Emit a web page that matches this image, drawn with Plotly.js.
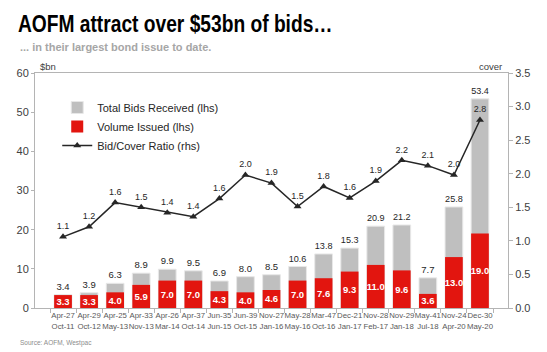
<!DOCTYPE html>
<html><head><meta charset="utf-8">
<script src="https://cdn.plot.ly/plotly-3.0.1.min.js"></script>
<style>body{margin:0;background:#fff}</style>
</head><body><div id="chart" style="width:547px;height:352px"></div>
<script>
const categories = ["Apr-27<br>Oct-11","Apr-29<br>Oct-12","Apr-25<br>May-13","Apr-33<br>Nov-13","Apr-26<br>Mar-14","Apr-37<br>Oct-14","Jun-35<br>Jun-15","Jun-39<br>Oct-15","Nov-27<br>Jan-16","May-28<br>May-16","Mar-47<br>Oct-16","Dec-21<br>Jan-17","Nov-28<br>Feb-17","Nov-29<br>Jan-18","May-41<br>Jul-18","Nov-24<br>Apr-20","Dec-30<br>May-20"];
const totalBids = [3.4,3.9,6.3,8.9,9.9,9.5,6.9,8.0,8.5,10.6,13.8,15.3,20.9,21.2,7.7,25.8,53.4];
const volumeIssued = [3.3,3.3,4.0,5.9,7.0,7.0,4.3,4.0,4.6,7.0,7.6,9.3,11.0,9.6,3.6,13.0,19.0];
const bidCover = [1.06,1.21,1.57,1.50,1.42,1.36,1.63,1.98,1.86,1.51,1.81,1.64,1.89,2.20,2.12,1.98,2.80];

const FONT = "'Liberation Sans', Arial, sans-serif";
const traces = [
  {type:'bar', name:'Total Bids Received (lhs)', x:categories, y:totalBids,
   marker:{color:'#bfbfbf', line:{color:'#e8e8e8', width:1}}, width:0.68,
   text:totalBids.map(v=>v.toFixed(1)), textposition:'outside', cliponaxis:false,
   textfont:{size:9.5, color:'#262626', family:FONT}, hoverinfo:'skip'},
  {type:'bar', name:'Volume Issued (lhs)', x:categories, y:volumeIssued,
   marker:{color:'#e2150f'}, width:0.68,
   text:volumeIssued.map(v=>v.toFixed(1)), textposition:'inside', insidetextanchor:'middle',
   constraintext:'none', textangle:0,
   textfont:{size:9.5, color:'#ffffff', family:FONT, weight:'bold'}, hoverinfo:'skip'},
  {type:'scatter', mode:'lines+markers+text', name:'Bid/Cover Ratio (rhs)', x:categories, y:bidCover, yaxis:'y2',
   line:{color:'#262626', width:1.5}, marker:{symbol:'triangle-up', size:7, color:'#262626'},
   text:bidCover.map(v=>v.toFixed(1)), textposition:'top center', cliponaxis:false,
   textfont:{size:9, color:'#262626', family:FONT}, hoverinfo:'skip'}
];
const layout = {
  width:547, height:352, paper_bgcolor:'#fff', plot_bgcolor:'#fff',
  margin:{l:35, r:39, t:73, b:44},
  font:{family:FONT, color:'#404040'},
  barmode:'overlay', showlegend:true,
  title:{text:'AOFM attract over $53bn of bids…', x:18/547, xanchor:'left', xref:'container', y:1-24/352, yanchor:'middle', yref:'container',
    font:{size:24, color:'#000', weight:'bold', family:FONT}},
  xaxis:{type:'category', showline:true, linecolor:'#b4b4b4', linewidth:1, mirror:true,
    ticks:'outside', tickson:'boundaries', ticklen:4, tickcolor:'#b4b4b4', tickangle:0,
    tickfont:{size:7.8, color:'#595959'}, showgrid:false, fixedrange:true},
  yaxis:{range:[0,60], dtick:10, showline:true, linecolor:'#b4b4b4', ticks:'outside', ticklen:3, tickcolor:'#b4b4b4',
    showgrid:false, zeroline:false, tickfont:{size:11, color:'#404040'}},
  yaxis2:{range:[0,3.5], dtick:0.5, tickformat:'.1f', overlaying:'y', side:'right', showline:true, linecolor:'#b4b4b4',
    ticks:'outside', ticklen:4, tickcolor:'#b4b4b4', showgrid:false, zeroline:false, tickfont:{size:11, color:'#404040'}},
  legend:{x:0.047, y:0.915, xanchor:'left', yanchor:'top', bgcolor:'rgba(0,0,0,0)', font:{size:11, color:'#262626'}, traceorder:'normal', tracegroupgap:0},
  annotations:[
    {text:'... in their largest bond issue to date.', xref:'paper', yref:'paper', x:-17/473, y:1+(73-47)/235, xanchor:'left', yanchor:'middle', showarrow:false,
     font:{size:11, color:'#a6a6a6', weight:'bold'}},
    {text:'$bn', xref:'paper', yref:'paper', x:3/473, y:1+(73-67)/235, xanchor:'left', yanchor:'middle', showarrow:false, font:{size:9.5, color:'#404040'}},
    {text:'cover', xref:'paper', yref:'paper', x:1-4/473, y:1+(73-67)/235, xanchor:'right', yanchor:'middle', showarrow:false, font:{size:9.5, color:'#404040'}},
    {text:'Source: AOFM, Westpac', xref:'paper', yref:'paper', x:-17/473, y:-(343-308)/235, xanchor:'left', yanchor:'middle', showarrow:false, font:{size:6.5, color:'#8c8c8c'}}
  ]
};
Plotly.newPlot('chart', traces, layout, {staticPlot:true, displayModeBar:false}).then(function(gd){
  // the reference title is set in a condensed bold face: narrow it horizontally around its left anchor
  const t = gd.querySelector('.gtitle');
  if (t) {
    const x0 = parseFloat(t.getAttribute('x')) || 18;
    t.setAttribute('transform', 'translate(' + x0 + ',0) scale(0.8,1) translate(' + (-x0) + ',0)');
  }
});
</script></body></html>
